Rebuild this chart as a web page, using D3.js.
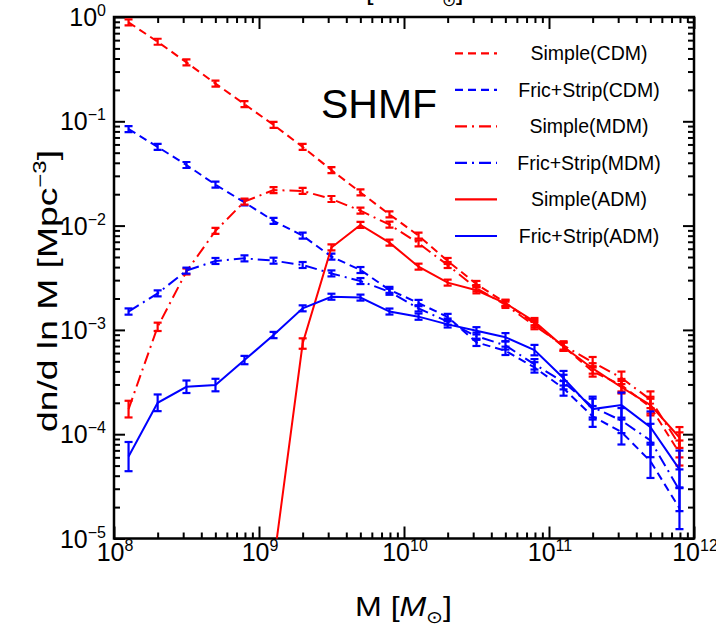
<!DOCTYPE html>
<html><head><meta charset="utf-8">
<script src="https://cdn.jsdelivr.net/npm/d3@7"></script>
<style>
body{margin:0;background:#fff}
svg{display:block}
text{font-family:"Liberation Sans",Arial,Helvetica,sans-serif;fill:#000}
.narrow{font-family:"Liberation Sans Narrow","Arial Narrow","Liberation Sans",Arial,sans-serif}
</style>
</head><body>
<svg id="chart" width="716" height="625"></svg>
<script>
// ---------------- data ----------------
const massBins = [1.26e8, 2.0e8, 3.16e8, 5.01e8, 7.94e8, 1.26e9, 2.0e9, 3.16e9, 5.01e9, 7.94e9,
                  1.26e10, 2.0e10, 3.16e10, 5.01e10, 7.94e10, 1.26e11, 2.0e11, 3.16e11, 5.01e11, 7.94e11];

const simpleCDM   = [0.889, 0.579, 0.367, 0.230, 0.146, 0.0923, 0.0568, 0.0341, 0.0208, 0.0128,
                     0.0080, 0.00458, 0.00275, 0.00182, 0.00115, 0.00069, 0.00040, 0.000295, 0.000182, 6.6e-5];
const fricCDM     = [0.0843, 0.0568, 0.0381, 0.0247, 0.0167, 0.0111, 0.0080, 0.00504, 0.00375, 0.00242,
                     0.00181, 0.00133, 0.00076, 0.00063, 0.000437, 0.000275, 0.000148, 0.000105, 5.5e-5, 1.95e-5];
const simpleMDM   = [1.74e-4, 1.07e-3, 3.63e-3, 8.9e-3, 0.0170, 0.0219, 0.0215, 0.0180, 0.0139, 0.0102,
                     0.00676, 0.00419, 0.00251, 0.00174, 0.00110, 0.00071, 0.00049, 0.000347, 0.000214, 7.9e-5];
const fricMDM     = [0.00150, 0.00224, 0.00370, 0.00458, 0.00485, 0.00461, 0.00419, 0.00348, 0.00294, 0.00232,
                     0.00161, 0.00120, 0.00087, 0.00071, 0.000468, 0.000316, 0.000182, 0.000135, 8.7e-5, 2.9e-5];
const simpleADM   = [null, null, null, null, null, 5.75e-6, 7.4e-4, 6.17e-3, 0.01014, 0.00686,
                     0.00404, 0.00284, 0.00240, 0.00180, 0.00120, 0.00069, 0.000427, 0.000282, 0.00019, 9.3e-5];
const fricADM     = [6.1e-5, 2.0e-4, 2.85e-4, 2.96e-4, 5.14e-4, 8.93e-4, 1.61e-3, 2.08e-3, 2.04e-3, 1.50e-3,
                     1.34e-3, 1.13e-3, 9.8e-4, 8.5e-4, 6.4e-4, 3.44e-4, 1.74e-4, 1.9e-4, 1.17e-4, 4.6e-5];

// error half-widths (dex)
const errSimpleCDM = [0.02,0.02,0.02,0.02,0.02,0.02,0.02,0.02,0.02,0.02,0.02,0.025,0.03,0.03,0.035,0.04,0.05,0.06,0.08,0.12];
const errFricCDM   = [0.02,0.02,0.02,0.02,0.02,0.02,0.02,0.02,0.025,0.025,0.03,0.03,0.035,0.04,0.05,0.07,0.1,0.12,0.16,0.2];
const errSimpleMDM = [0.08,0.04,0.02,0.02,0.02,0.02,0.02,0.02,0.02,0.02,0.02,0.025,0.03,0.03,0.035,0.04,0.05,0.06,0.08,0.12];
const errFricMDM   = [0.03,0.02,0.02,0.02,0.02,0.02,0.02,0.02,0.025,0.025,0.03,0.03,0.035,0.04,0.05,0.07,0.1,0.12,0.16,0.2];
const errSimpleADM = [0,0,0,0,0,0,0.05,0.02,0.02,0.02,0.02,0.025,0.03,0.03,0.035,0.04,0.05,0.06,0.08,0.1];
const errFricADM   = [0.14,0.08,0.06,0.06,0.04,0.03,0.025,0.025,0.025,0.025,0.03,0.03,0.035,0.04,0.05,0.07,0.1,0.12,0.15,0.18];

const seriesLabels = ["Simple(CDM)", "Fric+Strip(CDM)", "Simple(MDM)", "Fric+Strip(MDM)", "Simple(ADM)", "Fric+Strip(ADM)"];
const seriesValues = [simpleCDM, fricCDM, simpleMDM, fricMDM, simpleADM, fricADM];
const seriesErrors = [errSimpleCDM, errFricCDM, errSimpleMDM, errFricMDM, errSimpleADM, errFricADM];

const xTickExps = [8, 9, 10, 11, 12];
const yTickExps = [0, -1, -2, -3, -4, -5];

// ---------------- styles ----------------
const seriesColors = ["#ff0000", "#0000ff", "#ff0000", "#0000ff", "#ff0000", "#0000ff"];
const seriesDash   = ["8,5", "8,5", "12,5,2,5", "12,5,2,5", null, null];

// ---------------- layout ----------------
const svg = d3.select("#chart");
const L = 114, R = 694, T = 17, B = 538.5;
const x = d3.scaleLog().domain([1e8, 1e12]).range([L, R]);
const y = d3.scaleLog().domain([1e-5, 1e0]).range([B, T]);

svg.append("defs").append("clipPath").attr("id", "plotclip")
  .append("rect").attr("x", L).attr("y", T).attr("width", R - L).attr("height", B - T);

// ---------------- axes (ticks inward on all sides) ----------------
const xMinor = [], yMinor = [];
for (let e = 8; e < 12; e++) for (let k = 2; k <= 9; k++) xMinor.push(k * Math.pow(10, e));
for (let e = -5; e < 0; e++) for (let k = 2; k <= 9; k++) yMinor.push(k * Math.pow(10, e));
const xMajor = xTickExps.map(e => Math.pow(10, e));
const yMajor = yTickExps.map(e => Math.pow(10, e));

const axG = svg.append("g");
function addAxis(axisFn, scale, vals, size, transform) {
  const a = axisFn(scale).tickValues(vals).tickSize(size).tickFormat("");
  const g = axG.append("g").attr("transform", transform).call(a);
  g.select(".domain").remove();
  g.selectAll(".tick line").attr("stroke", "#000").attr("stroke-width", 2);
}
addAxis(d3.axisTop, x, xMajor, 12, `translate(0,${B})`);
addAxis(d3.axisTop, x, xMinor, 6, `translate(0,${B})`);
addAxis(d3.axisBottom, x, xMajor, 12, `translate(0,${T})`);
addAxis(d3.axisBottom, x, xMinor, 6, `translate(0,${T})`);
addAxis(d3.axisRight, y, yMajor, 11, `translate(${L},0)`);
addAxis(d3.axisRight, y, yMinor, 6, `translate(${L},0)`);
addAxis(d3.axisLeft, y, yMajor, 11, `translate(${R},0)`);
addAxis(d3.axisLeft, y, yMinor, 6, `translate(${R},0)`);

axG.append("rect").attr("x", L).attr("y", T).attr("width", R - L).attr("height", B - T)
  .attr("fill", "none").attr("stroke", "#000").attr("stroke-width", 2.5);

// tick labels
const supMinus = "\u2212";
const xl = svg.append("g");
xTickExps.forEach(e => {
  const t = xl.append("text").attr("class", "narrow").attr("x", x(Math.pow(10, e)) + 1).attr("y", 561)
    .attr("text-anchor", "middle").attr("font-size", 25);
  t.append("tspan").text("10");
  t.append("tspan").attr("font-size", 16).attr("dy", -10).text(String(e));
});
yTickExps.forEach(e => {
  const t = xl.append("text").attr("class", "narrow").attr("x", 106).attr("y", y(Math.pow(10, e)) + 9)
    .attr("text-anchor", "end").attr("font-size", 25);
  t.append("tspan").text("10");
  t.append("tspan").attr("font-size", 16).attr("dy", -10).text(e === 0 ? "0" : supMinus + Math.abs(e));
});

// axis titles
const xt = svg.append("text").attr("x", 355).attr("y", 616).attr("font-size", 27)
  .attr("textLength", 97).attr("lengthAdjust", "spacingAndGlyphs");
xt.append("tspan").text("M [");
xt.append("tspan").attr("font-style", "italic").text("M");
xt.append("tspan").attr("font-size", 17).attr("dy", 7).text("\u2299");
xt.append("tspan").attr("dy", -7).text("]");

const yt = svg.append("text").attr("transform", "translate(57,432) rotate(-90)")
  .attr("font-size", 28).attr("textLength", 282).attr("lengthAdjust", "spacingAndGlyphs");
yt.append("tspan").text("dn/d ln M [Mpc");
yt.append("tspan").attr("font-size", 18).attr("dy", -11).text(supMinus + "3");
yt.append("tspan").attr("dy", 11).text("]");

// clipped label from the panel above
const tt = svg.append("text").attr("x", 366).attr("y", -1).attr("font-size", 27);
tt.append("tspan").text("[h");
tt.append("tspan").attr("font-size", 17).attr("dy", -10).text(supMinus + "1");
tt.append("tspan").attr("dy", 10).text(" ");
tt.append("tspan").attr("font-style", "italic").text("M");
tt.append("tspan").attr("font-size", 17).attr("dx", 4).attr("dy", 7).text("\u2299");
tt.append("tspan").attr("dy", -7).text("]");

// ---------------- series ----------------
const plot = svg.append("g").attr("clip-path", "url(#plotclip)");
const line = d3.line().defined(d => d.v != null).x(d => x(d.m)).y(d => y(d.v));

seriesValues.forEach((vals, i) => {
  const pts = vals.map((v, j) => ({m: massBins[j], v: v, e: seriesErrors[i][j]}));
  plot.append("path").datum(pts).attr("d", line)
    .attr("fill", "none").attr("stroke", seriesColors[i]).attr("stroke-width", 2)
    .attr("stroke-dasharray", seriesDash[i]);
  const eg = plot.append("g").attr("stroke", seriesColors[i]).attr("stroke-width", 2.2);
  pts.filter(d => d.v != null && d.e > 0).forEach(d => {
    const cx = x(d.m);
    let y1 = y(d.v * Math.pow(10, d.e)), y2 = y(d.v / Math.pow(10, d.e));
    const mid = y(d.v);
    y1 = Math.min(y1, mid - 3); y2 = Math.max(y2, mid + 3);
    eg.append("line").attr("x1", cx).attr("x2", cx).attr("y1", y1).attr("y2", y2);
    eg.append("line").attr("x1", cx - 4).attr("x2", cx + 4).attr("y1", y1).attr("y2", y1);
    eg.append("line").attr("x1", cx - 4).attr("x2", cx + 4).attr("y1", y2).attr("y2", y2);
  });
});

// ---------------- SHMF label ----------------
svg.append("text").attr("x", 321).attr("y", 118).attr("font-size", 41).text("SHMF");

// ---------------- legend ----------------
const legRowY = d3.scaleLinear().domain([0, 5]).range([53.3, 236]);
const lg = svg.append("g");
seriesLabels.forEach((name, i) => {
  const yy = legRowY(i);
  lg.append("line").attr("x1", 455).attr("x2", 497).attr("y1", yy).attr("y2", yy)
    .attr("stroke", seriesColors[i]).attr("stroke-width", 2.2).attr("stroke-dasharray", seriesDash[i]);
  lg.append("text").attr("x", 589).attr("y", yy + 7).attr("text-anchor", "middle")
    .attr("font-size", 19.5).text(name);
});
</script>
</body></html>
